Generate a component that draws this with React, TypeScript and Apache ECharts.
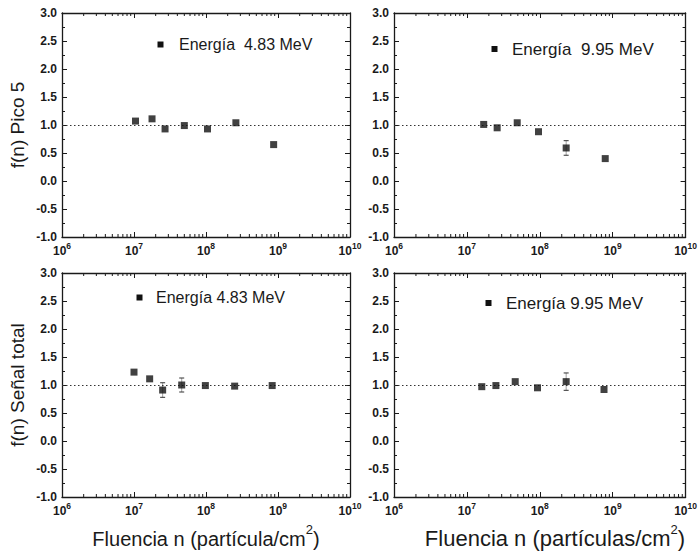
import { useEffect, useRef } from "react";
import * as echarts from "echarts";

// ---- data ----
const P5_483_X = [1.05e7, 1.78e7, 2.7e7, 5.0e7, 1.05e8, 2.6e8, 8.7e8];
const P5_483_Y = [1.07, 1.11, 0.93, 0.99, 0.93, 1.04, 0.65];
const P5_483_ERR = [0, 0, 0, 0, 0, 0, 0];

const P5_995_X = [1.7e7, 2.6e7, 4.9e7, 9.6e7, 2.3e8, 7.9e8];
const P5_995_Y = [1.01, 0.95, 1.04, 0.88, 0.59, 0.4];
const P5_995_ERR = [0, 0, 0, 0, 0.13, 0];

const TOT_483_X = [1.0e7, 1.65e7, 2.5e7, 4.6e7, 9.8e7, 2.5e8, 8.3e8];
const TOT_483_Y = [1.23, 1.11, 0.91, 1.0, 0.99, 0.98, 0.99];
const TOT_483_ERR = [0, 0, 0.13, 0.125, 0, 0, 0];

const TOT_995_X = [1.6e7, 2.5e7, 4.6e7, 9.3e7, 2.3e8, 7.6e8];
const TOT_995_Y = [0.97, 0.99, 1.06, 0.95, 1.06, 0.92];
const TOT_995_ERR = [0, 0, 0, 0, 0.155, 0];

const LEGENDS = ["Energía  4.83 MeV", "Energía  9.95 MeV", "Energía 4.83 MeV", "Energía 9.95 MeV"];
const Y_TITLES = ["f(n) Pico 5", "f(n) Señal total"];
const X_TITLES = ["Fluencia n (partícula/cm", "Fluencia n (partículas/cm"];

const X_MIN = 1e6;
const X_MAX = 1e10;
const Y_MIN = -1;
const Y_MAX = 3;
const Y_INTERVAL = 0.5;
const REFERENCE_LEVEL = 1;

// minor log ticks (2..9 x 10^d)
const MINOR_TICKS: number[] = [];
for (let d = 6; d < 10; d++) for (let k = 2; k <= 9; k++) MINOR_TICKS.push(k * Math.pow(10, d));

const PANELS = [
  { xs: P5_483_X, ys: P5_483_Y, err: P5_483_ERR },
  { xs: P5_995_X, ys: P5_995_Y, err: P5_995_ERR },
  { xs: TOT_483_X, ys: TOT_483_Y, err: TOT_483_ERR },
  { xs: TOT_995_X, ys: TOT_995_Y, err: TOT_995_ERR },
];

const GRIDS = [
  { left: 62, top: 13, width: 288, height: 224 },
  { left: 394, top: 13, width: 295, height: 224 },
  { left: 62, top: 273, width: 288, height: 224 },
  { left: 394, top: 273, width: 295, height: 224 },
];

const LEGEND_POS = [
  { mx: 160.5, my: 44.5, tx: 179, fs: 16 },
  { mx: 494.5, my: 49, tx: 512, fs: 17 },
  { mx: 139.5, my: 297.5, tx: 156, fs: 16 },
  { mx: 488.5, my: 303, tx: 506, fs: 17 },
];

const FONT = "'Liberation Sans', Arial, sans-serif";
const INK = "#1a1a1a";

export default function App() {
  const ref = useRef<HTMLDivElement>(null);
  useEffect(() => {
    document.body.style.margin = "0";
    const chart = echarts.init(ref.current!, null, { renderer: "svg" });

    const xAxis: any[] = [];
    const yAxis: any[] = [];
    const series: any[] = [];
    const axisLine = { show: true, onZero: false, lineStyle: { color: INK, width: 1.3 } };

    GRIDS.forEach((_, i) => {
      xAxis.push({
        type: "log",
        logBase: 10,
        gridIndex: i,
        min: X_MIN,
        max: X_MAX,
        position: "bottom",
        axisLine,
        axisTick: { inside: true, length: 5, lineStyle: { color: INK, width: 1 } },
        splitLine: { show: false },
        axisLabel: {
          margin: 4,
          fontSize: 12,
          fontWeight: "bold",
          fontFamily: FONT,
          color: INK,
          formatter: (v: number) => "{b|10}{s|" + Math.round(Math.log10(v)) + "}",
          rich: {
            b: { fontSize: 12, fontFamily: FONT, color: INK, fontWeight: "bold", lineHeight: 16, verticalAlign: "bottom" },
            s: { fontSize: 8.5, fontFamily: FONT, color: INK, fontWeight: "bold", lineHeight: 16, verticalAlign: "top" },
          },
        },
      });
      xAxis.push({
        type: "log",
        logBase: 10,
        gridIndex: i,
        min: X_MIN,
        max: X_MAX,
        position: "top",
        axisLine,
        axisTick: { inside: true, length: 5, lineStyle: { color: INK, width: 1 } },
        splitLine: { show: false },
        axisLabel: { show: false },
      });
      yAxis.push({
        type: "value",
        gridIndex: i,
        min: Y_MIN,
        max: Y_MAX,
        interval: Y_INTERVAL,
        position: "left",
        axisLine,
        axisTick: { inside: true, length: 5, lineStyle: { color: INK, width: 1 } },
        minorTick: { show: true, splitNumber: 2, length: 3, lineStyle: { color: INK, width: 1 } },
        splitLine: { show: false },
        axisLabel: {
          margin: 5,
          fontSize: 12,
          fontWeight: "bold",
          fontFamily: FONT,
          color: INK,
          formatter: (v: number) => v.toFixed(1),
        },
      });
      yAxis.push({
        type: "value",
        gridIndex: i,
        min: Y_MIN,
        max: Y_MAX,
        interval: Y_INTERVAL,
        position: "right",
        axisLine,
        axisTick: { inside: true, length: 5, lineStyle: { color: INK, width: 1 } },
        minorTick: { show: true, splitNumber: 2, length: 3, lineStyle: { color: INK, width: 1 } },
        splitLine: { show: false },
        axisLabel: { show: false },
      });

      const p = PANELS[i];
      series.push({
        type: "scatter",
        name: LEGENDS[i],
        xAxisIndex: 2 * i,
        yAxisIndex: 2 * i,
        symbol: "rect",
        symbolSize: 7,
        itemStyle: { color: "#111" },
        data: p.xs.map((x, j) => [x, p.ys[j]]),
        z: 5,
        markLine: {
          silent: true,
          symbol: ["none", "none"],
          label: { show: false },
          lineStyle: { color: "#333", width: 1.2, type: [1.5, 2.5] },
          data: [{ yAxis: REFERENCE_LEVEL }],
        },
      });
      series.push({
        type: "custom",
        xAxisIndex: 2 * i,
        yAxisIndex: 2 * i,
        silent: true,
        z: 4,
        data: p.xs.map((x, j) => [x, p.ys[j], p.err[j]]).filter((d) => d[2] > 0),
        renderItem: (params: any, api: any) => {
          const x = api.value(0);
          const y = api.value(1);
          const e = api.value(2);
          const top = api.coord([x, y + e]);
          const bot = api.coord([x, y - e]);
          const st = { stroke: "#333", lineWidth: 1 };
          return {
            type: "group",
            children: [
              { type: "line", shape: { x1: top[0], y1: top[1], x2: bot[0], y2: bot[1] }, style: { stroke: "#888", lineWidth: 0.8 } },
              { type: "line", shape: { x1: top[0] - 2.5, y1: top[1], x2: top[0] + 2.5, y2: top[1] }, style: st },
              { type: "line", shape: { x1: bot[0] - 2.5, y1: bot[1], x2: bot[0] + 2.5, y2: bot[1] }, style: st },
            ],
          };
        },
      });
      series.push({
        type: "custom",
        xAxisIndex: 2 * i,
        yAxisIndex: 2 * i,
        silent: true,
        z: 3,
        data: MINOR_TICKS.map((v) => [v, 0]),
        renderItem: (params: any, api: any) => {
          const v = api.value(0);
          const b = api.coord([v, Y_MIN]);
          const t = api.coord([v, Y_MAX]);
          const st = { stroke: INK, lineWidth: 1 };
          return {
            type: "group",
            children: [
              { type: "line", shape: { x1: b[0], y1: b[1], x2: b[0], y2: b[1] - 3 }, style: st },
              { type: "line", shape: { x1: t[0], y1: t[1], x2: t[0], y2: t[1] + 3 }, style: st },
            ],
          };
        },
      });
    });

    const graphic: any[] = [];
    LEGEND_POS.forEach((lp, i) => {
      graphic.push({ type: "rect", shape: { x: lp.mx - 3, y: lp.my - 3, width: 6, height: 6 }, style: { fill: "#111" } });
      graphic.push({
        type: "text",
        x: lp.tx,
        y: lp.my,
        style: { text: LEGENDS[i], fontSize: lp.fs, fontFamily: FONT, fill: INK, align: "left", verticalAlign: "middle" },
      });
    });
    [125, 385].forEach((cy, i) => {
      graphic.push({
        type: "text",
        x: 17,
        y: cy,
        rotation: Math.PI / 2,
        style: { text: Y_TITLES[i], fontSize: 19, fontFamily: FONT, fill: INK, align: "center", verticalAlign: "middle" },
      });
    });
    [
      { cx: 206, fs: 20 },
      { cx: 555, fs: 22 },
    ].forEach((t, i) => {
      graphic.push({
        type: "text",
        x: t.cx,
        y: 536,
        style: {
          text: "{m|" + X_TITLES[i] + "}{s|2}{m|)}",
          align: "center",
          verticalAlign: "middle",
          rich: {
            m: { fontSize: t.fs, fontFamily: FONT, fill: INK, lineHeight: 26, verticalAlign: "bottom" },
            s: { fontSize: 13, fontFamily: FONT, fill: INK, lineHeight: 26, verticalAlign: "top" },
          },
        },
      });
    });

    chart.setOption({
      animation: false,
      backgroundColor: "#ffffff",
      grid: GRIDS,
      xAxis,
      yAxis,
      series,
      graphic,
    });
    return () => chart.dispose();
  }, []);
  return <div ref={ref} style={{ width: 700, height: 556 }} />;
}
